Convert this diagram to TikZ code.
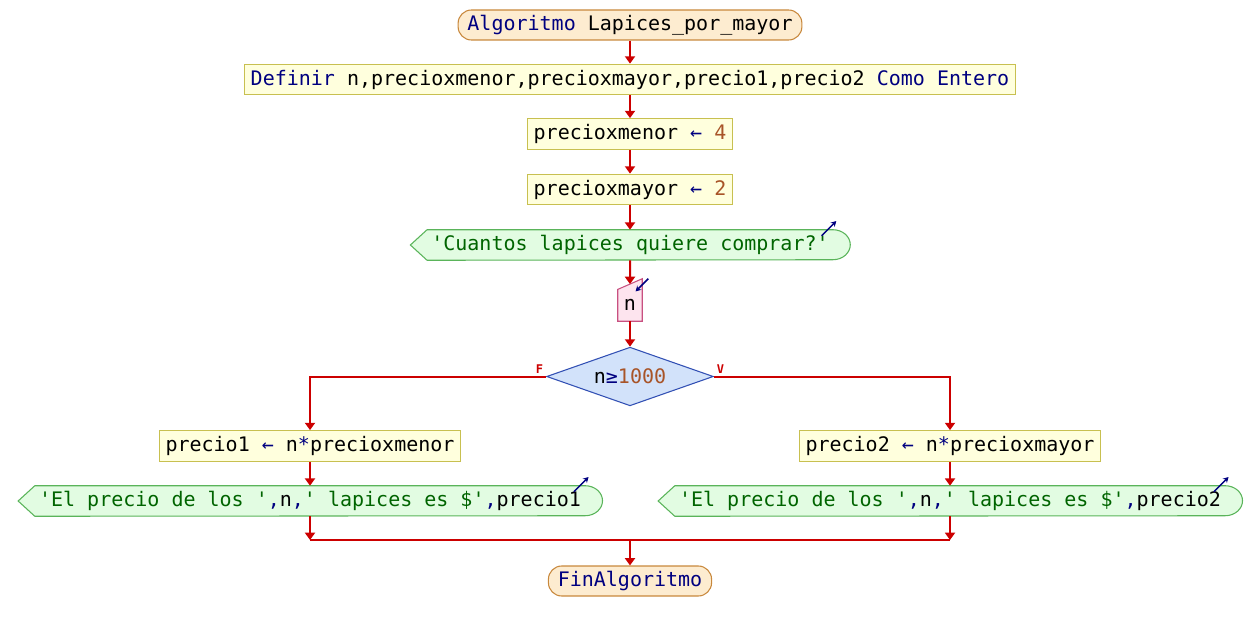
\documentclass[tikz,border=0pt]{standalone}
\usepackage{fontspec}
\setmonofont{DejaVu Sans Mono}
\usetikzlibrary{arrows.meta, calc, shapes.geometric}
\definecolor{flecha}{RGB}{204,0,0}
\definecolor{azul}{RGB}{0,0,128}
\definecolor{numero}{RGB}{168,84,40}
\definecolor{verde}{RGB}{0,100,0}
\definecolor{fondoterm}{RGB}{253,236,208}
\definecolor{bordeterm}{RGB}{200,136,60}
\definecolor{fondoproc}{RGB}{255,255,221}
\definecolor{bordeproc}{RGB}{200,192,80}
\definecolor{fondosal}{RGB}{226,252,226}
\definecolor{bordesal}{RGB}{90,180,90}
\definecolor{fondoent}{RGB}{253,228,238}
\definecolor{bordeent}{RGB}{200,80,128}
\definecolor{fondodec}{RGB}{210,226,250}
\definecolor{bordedec}{RGB}{50,80,180}
\pgfdeclarelayer{fondo}
\pgfsetlayers{fondo,main}
\tikzset{
  flujo/.style = {draw=flecha, line width=1.5pt, -{Triangle[length=5.5pt, width=7.5pt]}},
  union/.style = {draw=flecha, line width=1.5pt},
  caja/.style = {font=\ttfamily\fontsize{15}{18}\selectfont, inner xsep=4.5pt, inner ysep=0pt, minimum height=23pt},
  terminal/.style = {caja, draw=bordeterm, fill=fondoterm, line width=0.8pt, rounded corners=10pt, inner xsep=7pt, minimum height=22.5pt},
  proceso/.style = {caja, draw=bordeproc, fill=fondoproc, line width=0.8pt},
  salida/.style = {caja, inner xsep=3pt, minimum height=22.5pt},
  entrada/.style = {caja, minimum width=18pt, minimum height=31.5pt, inner xsep=0pt, text height=15pt, text depth=0pt},
  decision/.style = {caja, diamond, draw=bordedec, fill=fondodec, line width=0.8pt, minimum width=125pt, minimum height=44pt, inner sep=0pt, aspect=2.8},
  rotulo/.style = {font=\ttfamily\bfseries\fontsize{9}{10}\selectfont, text=flecha, inner sep=1.5pt},
  icono/.style = {draw=azul, line width=1.1pt, -{Stealth[length=4pt, width=4.5pt]}}
}
% salida: punta a la izquierda, extremo redondo a la derecha
\newcommand{\formasalida}[1]{%
  \begin{pgfonlayer}{fondo}
    \draw[draw=bordesal, fill=fondosal, line width=0.8pt] ([xshift=-12.5pt]#1.west) -- (#1.north west) -- (#1.north east)
      arc[start angle=90, end angle=-90, x radius=13pt, y radius=11.25pt] -- (#1.south west) -- cycle;
  \end{pgfonlayer}
  \draw[icono] ([xshift=-8.5pt, yshift=-4.5pt]#1.north east) -- ([xshift=2.5pt, yshift=6.5pt]#1.north east);}
% entrada: borde superior inclinado
\newcommand{\formaentrada}[1]{%
  \begin{pgfonlayer}{fondo}
    \draw[draw=bordeent, fill=fondoent, line width=0.8pt] (#1.south west) -- ([yshift=-8pt]#1.north west) -- (#1.north east) -- (#1.south east) -- cycle;
  \end{pgfonlayer}
  \coordinate (#1-tope) at ($([yshift=-8pt]#1.north west)!0.5!(#1.north east)$);
  \draw[icono] ([xshift=4.5pt]#1.north east) -- ([xshift=-5pt, yshift=-9.5pt]#1.north east);}
\begin{document}
\begin{tikzpicture}[x=0.75pt, y=-0.75pt]
\useasboundingbox (0,0) rectangle (1260,631);
\node[terminal] (inicio) at (630,25) {\color{azul}Algoritmo \color{black}Lapices\_por\_mayor};
\node[proceso] (definir) at (630,79.5) {{\color{azul}Definir} n,precioxmenor,precioxmayor,precio1,precio2 {\color{azul}Como Entero}};
\node[proceso] (menor) at (630,134) {precioxmenor {\color{azul}←} {\color{numero}4}};
\node[proceso] (mayor) at (630,189.5) {precioxmayor {\color{azul}←} {\color{numero}2}};
\node[salida] (pregunta) at (630,245) {\color{verde}'Cuantos lapices quiere comprar?'};
\formasalida{pregunta}
\node[entrada] (leer) at (630,300) {n};
\formaentrada{leer}
\node[decision] (cond) at (630,376.5) {n{\color{azul}≥}{\color{numero}1000}};
\node[proceso] (calc1) at (310,446) {precio1 {\color{azul}←} n{\color{azul}*}precioxmenor};
\node[proceso] (calc2) at (950,446) {precio2 {\color{azul}←} n{\color{azul}*}precioxmayor};
\node[salida] (result1) at (310,501) {{\color{verde}'El precio de los '}{\color{azul},}n{\color{azul},}{\color{verde}' lapices es \$'}{\color{azul},}precio1};
\formasalida{result1}
\node[salida] (result2) at (950,501) {{\color{verde}'El precio de los '}{\color{azul},}n{\color{azul},}{\color{verde}' lapices es \$'}{\color{azul},}precio2};
\formasalida{result2}
\coordinate (union1) at (310,540);
\coordinate (union2) at (950,540);
\coordinate (union0) at (630,540);
\node[terminal] (fin) at (630,581) {\color{azul}FinAlgoritmo};

\draw[flujo] (inicio.south) -- (definir.north);
\draw[flujo] (definir.south) -- (menor.north);
\draw[flujo] (menor.south) -- (mayor.north);
\draw[flujo] (mayor.south) -- (pregunta.north);
\draw[flujo] (pregunta.south) -- (leer-tope);
\draw[flujo] (leer.south) -- (cond.north);
\draw[flujo] (cond.west) node[rotulo, above left] (etiqF) {F} -| (calc1.north);
\draw[flujo] (cond.east) node[rotulo, above right] (etiqV) {V} -| (calc2.north);
\draw[flujo] (calc1.south) -- (result1.north);
\draw[flujo] (calc2.south) -- (result2.north);
\draw[flujo] (result1.south) -- (union1);
\draw[flujo] (result2.south) -- (union2);
\draw[union] (union1) -- (union2);
\draw[flujo] (union0) -- (fin.north);
\end{tikzpicture}
\end{document}
